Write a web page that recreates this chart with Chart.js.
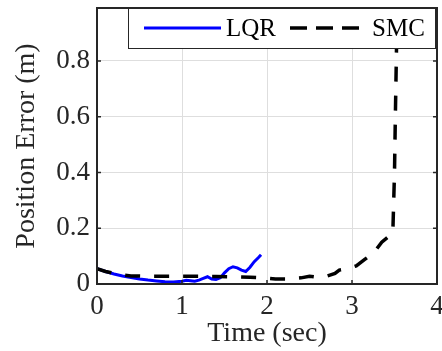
<!DOCTYPE html>
<html>
<head>
<meta charset="utf-8">
<script src="https://cdn.jsdelivr.net/npm/chart.js@4"></script>
<style>
  html, body { margin: 0; padding: 0; background: #fff; }
  #wrap { width: 442px; height: 351px; }
</style>
</head>
<body>
<div id="wrap"><canvas id="errChart" width="442" height="351"></canvas></div>
<script>
// 数据
const lqrTime  = [0, 0.1, 0.2, 0.3, 0.4, 0.5, 0.6, 0.7, 0.8, 0.9, 1.0, 1.05, 1.1, 1.15, 1.2, 1.25, 1.3, 1.35, 1.4, 1.45, 1.5, 1.55, 1.6, 1.65, 1.7, 1.75, 1.8, 1.85, 1.9, 1.93];
const lqrError = [0.055, 0.045, 0.036, 0.029, 0.023, 0.018, 0.014, 0.011, 0.008, 0.007, 0.01, 0.013, 0.012, 0.01, 0.014, 0.02, 0.026, 0.018, 0.016, 0.022, 0.04, 0.055, 0.062, 0.058, 0.05, 0.045, 0.06, 0.08, 0.095, 0.105];
const smcTime  = [0, 0.1, 0.2, 0.3, 0.4, 0.6, 0.8, 1.0, 1.2, 1.4, 1.6, 1.8, 1.95, 2.1, 2.25, 2.4, 2.5, 2.6, 2.7, 2.8, 2.85, 2.95, 3.05, 3.15, 3.25, 3.35, 3.45, 3.48, 3.5, 3.51, 3.535];
const smcError = [0.055, 0.045, 0.038, 0.032, 0.029, 0.028, 0.028, 0.028, 0.028, 0.027, 0.026, 0.024, 0.022, 0.018, 0.018, 0.022, 0.028, 0.024, 0.028, 0.038, 0.05, 0.055, 0.065, 0.088, 0.11, 0.15, 0.175, 0.18, 0.4, 0.6, 1.05];
const xTicks = [0, 1, 2, 3, 4];
const yTicks = [0, 0.2, 0.4, 0.6, 0.8];

const axisColor = '#262626';
const serif = "'Liberation Serif', 'DejaVu Serif', serif";

function toPoints(xs, ys) {
    return xs.map((x, i) => ({ x: x, y: ys[i] }));
}

// 去掉标签引起的额外边距
function noPad(s) {
    s.paddingLeft = 0;
    s.paddingRight = 0;
    s.paddingTop = 0;
    s.paddingBottom = 0;
}

// 外框 + 内向刻度
const boxPlugin = {
    id: 'boxPlugin',
    afterDatasetsDraw(chart) {
        const { ctx, chartArea: a, scales } = chart;
        ctx.save();
        ctx.strokeStyle = axisColor;
        ctx.lineWidth = 2;
        ctx.strokeRect(a.left, a.top, a.right - a.left, a.bottom - a.top);
        ctx.lineWidth = 1.5;
        ctx.beginPath();
        xTicks.forEach(v => {
            const px = scales.x.getPixelForValue(v);
            ctx.moveTo(px, a.bottom); ctx.lineTo(px, a.bottom - 4);
            ctx.moveTo(px, a.top); ctx.lineTo(px, a.top + 4);
        });
        yTicks.forEach(v => {
            const py = scales.y.getPixelForValue(v);
            ctx.moveTo(a.left, py); ctx.lineTo(a.left + 4, py);
            ctx.moveTo(a.right, py); ctx.lineTo(a.right - 4, py);
        });
        ctx.stroke();
        ctx.restore();
    }
};

// 图例（画在绘图区右上角）
const legendPlugin = {
    id: 'legendPlugin',
    afterDraw(chart) {
        const { ctx, chartArea: a } = chart;
        const right = a.right - 1, top = a.top;
        const left = right - 308, h = 41;
        ctx.save();
        ctx.fillStyle = '#fff';
        ctx.fillRect(left, top, right - left, h);
        ctx.strokeStyle = axisColor;
        ctx.lineWidth = 1;
        ctx.strokeRect(left + 0.5, top + 0.5, right - left - 1, h - 1);
        ctx.font = '25px ' + serif;
        ctx.textBaseline = 'middle';
        ctx.fillStyle = '#000';
        const midY = top + 20;
        let x = left + 16;
        const ds = [chart.data.datasets[1], chart.data.datasets[0]];
        ds.forEach(d => {
            ctx.beginPath();
            ctx.strokeStyle = d.borderColor;
            ctx.lineWidth = d.borderWidth;
            ctx.setLineDash(d.legendDash || []);
            ctx.moveTo(x, midY);
            ctx.lineTo(x + 77, midY);
            ctx.stroke();
            ctx.setLineDash([]);
            x += 82;
            ctx.fillText(d.label, x, midY + 1);
            x += ctx.measureText(d.label).width + 14;
        });
        ctx.restore();
    }
};

const ctx = document.getElementById('errChart').getContext('2d');
new Chart(ctx, {
    type: 'scatter',
    data: {
        datasets: [{
            label: 'SMC',
            data: toPoints(smcTime, smcError),
            showLine: true,
            borderColor: '#000000',
            borderWidth: 3.5,
            borderDash: [15, 14],
            legendDash: [17, 9],
            pointRadius: 0,
            tension: 0,
            order: 0
        }, {
            label: 'LQR',
            data: toPoints(lqrTime, lqrError),
            showLine: true,
            borderColor: '#0000ff',
            borderWidth: 3,
            pointRadius: 0,
            tension: 0,
            order: 1
        }]
    },
    options: {
        responsive: false,
        animation: false,
        devicePixelRatio: 1,
        layout: { padding: { top: 8, right: 5, left: 0, bottom: 0 } },
        plugins: {
            legend: { display: false },
            tooltip: { enabled: false }
        },
        scales: {
            x: {
                type: 'linear',
                min: 0,
                max: 4,
                afterBuildTicks: s => { s.ticks = xTicks.map(v => ({ value: v })); },
                afterFit: s => { s.height = 67; noPad(s); },
                grid: { color: '#dedede', lineWidth: 1, drawTicks: false },
                border: { display: false },
                ticks: {
                    color: axisColor,
                    padding: 7,
                    maxRotation: 0,
                    font: { family: serif, size: 27 },
                    callback: v => String(v)
                },
                title: {
                    display: true,
                    text: 'Time (sec)',
                    color: axisColor,
                    font: { family: serif, size: 28, lineHeight: 1.2 },
                    padding: { top: 0, bottom: 1 }
                }
            },
            y: {
                type: 'linear',
                min: 0,
                max: 0.99,
                afterBuildTicks: s => { s.ticks = yTicks.map(v => ({ value: v })); },
                afterFit: s => { s.width = 97; noPad(s); },
                grid: { color: '#dedede', lineWidth: 1, drawTicks: false },
                border: { display: false },
                ticks: {
                    color: axisColor,
                    padding: 7,
                    font: { family: serif, size: 27 },
                    callback: v => String(Math.round(v * 10) / 10)
                },
                title: {
                    display: true,
                    text: 'Position Error (m)',
                    color: axisColor,
                    font: { family: serif, size: 28, lineHeight: 1.2 },
                    padding: { top: 10, bottom: 0 }
                }
            }
        }
    },
    plugins: [boxPlugin, legendPlugin]
});
</script>
</body>
</html>
